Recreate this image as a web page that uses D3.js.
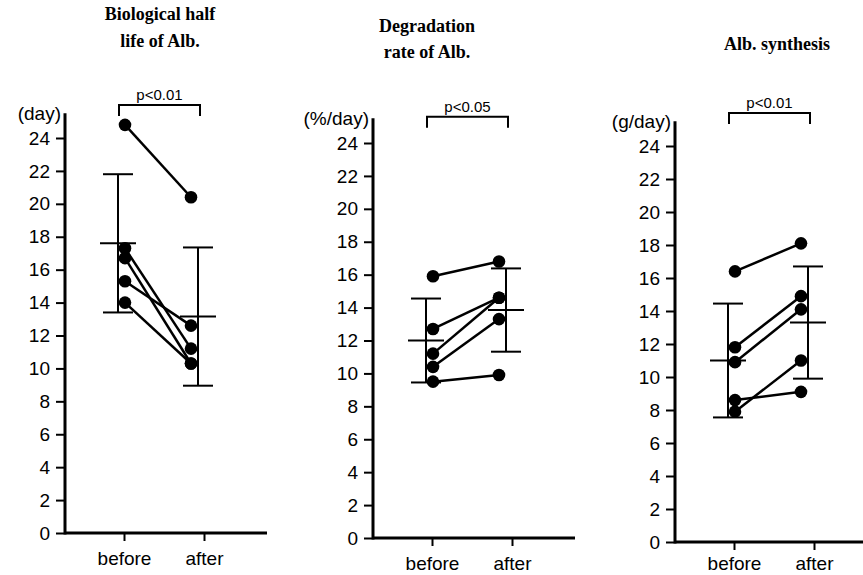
<!DOCTYPE html>
<html>
<head>
<meta charset="utf-8">
<style>
    body {
        margin: 0;
        background: white;
    }
    svg {
        display: block;
        background: white;
    }
    .tick text, .unit {
        font-family: "Liberation Sans", Arial, Helvetica, sans-serif;
        font-size: 19px;
        fill: #000;
    }
    .ptext {
        font-family: "Liberation Sans", Arial, Helvetica, sans-serif;
        font-size: 15px;
    }
    .title {
        font-family: "Liberation Serif", "Times New Roman", serif;
        font-weight: bold;
        font-size: 18px;
    }
</style>
</head>
<body>
<svg id="chart" width="863" height="575"></svg>

<script src="https://d3js.org/d3.v7.min.js"></script>
<script>
    // ---- data ----
    const groups = ["before", "after"]
    const yTicks = [0, 2, 4, 6, 8, 10, 12, 14, 16, 18, 20, 22, 24]

    // biological half life of albumin (day)
    const halfLifeBefore = [24.8, 17.3, 16.7, 15.3, 14.0]
    const halfLifeAfter  = [20.4, 11.2, 10.3, 12.6, 10.3]
    const halfLifeMean   = [17.6, 13.15]
    const halfLifeSD     = [4.2, 4.2]

    // degradation rate of albumin (%/day)
    const degradBefore = [15.9, 12.7, 11.2, 10.4, 9.5]
    const degradAfter  = [16.8, 14.6, 14.6, 13.3, 9.9]
    const degradMean   = [12.0, 13.85]
    const degradSD     = [2.55, 2.53]

    // albumin synthesis (g/day)
    const synthBefore = [16.4, 11.8, 10.9, 7.9, 8.6]
    const synthAfter  = [18.1, 14.9, 14.1, 11.0, 9.1]
    const synthMean   = [11.0, 13.3]
    const synthSD     = [3.45, 3.4]

    const titles = [["Biological half", "life of Alb."], ["Degradation", "rate of Alb."], ["Alb. synthesis"]]
    const units = ["(day)", "(%/day)", "(g/day)"]
    const pLabels = ["p<0.01", "p<0.05", "p<0.01"]

    // ---- layout ----
    const panels = [
        { axisX: 65,  y0: 533, y24: 138, titleX: 160, titleY: [20, 47], bracketV: 26.0, labelPad: 11,
          before: halfLifeBefore, after: halfLifeAfter, mean: halfLifeMean, sd: halfLifeSD },
        { axisX: 373, y0: 538, y24: 143, titleX: 427, titleY: [32, 58], bracketV: 25.6, labelPad: 11,
          before: degradBefore, after: degradAfter, mean: degradMean, sd: degradSD },
        { axisX: 675, y0: 542, y24: 146, titleX: 777, titleY: [50], bracketV: 26.0, labelPad: 7,
          before: synthBefore, after: synthAfter, mean: synthMean, sd: synthSD }
    ]

    const svg = d3.select("#chart")

    panels.forEach(function (p, i) {
        let g = svg.append("g").attr("transform", `translate(${p.axisX},0)`)

        let y = d3.scaleLinear()
            .domain([0, 24])
            .range([p.y0, p.y24])

        let x = d3.scalePoint()
            .domain(groups)
            .range([59, 139])

        // dots sit a bit inside the ticks, error bars a bit left
        let dotX = d => x(d) + (d == "before" ? 1 : -13)
        let errX = d => x(d) - 6

        // y axis
        g.append("g")
            .attr("class", "y axis")
            .call(d3.axisLeft(y).tickValues(yTicks).tickSize(9).tickPadding(6))
            .call(a => a.select(".domain").remove())
            .call(a => a.selectAll(".tick line").attr("stroke-width", 2))

        g.append("line")
            .attr("x1", 0).attr("x2", 0)
            .attr("y1", y(0) + 1.5).attr("y2", y(25.5))
            .attr("stroke", "#000").attr("stroke-width", 3)

        // x axis
        g.append("g")
            .attr("class", "x axis")
            .attr("transform", `translate(0,${y(0)})`)
            .call(d3.axisBottom(x).tickSize(8).tickPadding(p.labelPad))
            .call(a => a.select(".domain").remove())
            .call(a => a.selectAll(".tick line").attr("stroke-width", 2))

        g.append("line")
            .attr("x1", 0).attr("x2", 202)
            .attr("y1", y(0)).attr("y2", y(0))
            .attr("stroke", "#000").attr("stroke-width", 3)

        // unit label
        g.append("text")
            .attr("class", "unit")
            .attr("x", -4)
            .attr("y", y(25.1))
            .attr("text-anchor", "end")
            .text(units[i])

        // paired lines
        let pairs = p.before.map((b, k) => [b, p.after[k]])
        g.append("g")
            .selectAll("line")
            .data(pairs)
            .join("line")
            .attr("x1", dotX("before"))
            .attr("x2", dotX("after"))
            .attr("y1", d => y(d[0]))
            .attr("y2", d => y(d[1]))
            .attr("stroke", "#000")
            .attr("stroke-width", 2.5)

        // dots
        let dots = []
        p.before.forEach(v => dots.push({ group: "before", value: v }))
        p.after.forEach(v => dots.push({ group: "after", value: v }))
        g.append("g")
            .selectAll("circle")
            .data(dots)
            .join("circle")
            .attr("cx", d => dotX(d.group))
            .attr("cy", d => y(d.value))
            .attr("r", 6.3)
            .attr("fill", "#000")

        // mean +- sd
        let stats = groups.map((gr, k) => ({ group: gr, mean: p.mean[k], sd: p.sd[k] }))
        let eb = g.append("g")
            .selectAll("g")
            .data(stats)
            .join("g")
            .attr("stroke", "#000")
            .attr("stroke-width", 2)

        eb.append("line")
            .attr("x1", d => errX(d.group)).attr("x2", d => errX(d.group))
            .attr("y1", d => y(d.mean - d.sd)).attr("y2", d => y(d.mean + d.sd))
        eb.append("line")
            .attr("x1", d => errX(d.group) - 18).attr("x2", d => errX(d.group) + 18)
            .attr("y1", d => y(d.mean)).attr("y2", d => y(d.mean))
        eb.append("line")
            .attr("x1", d => errX(d.group) - 15).attr("x2", d => errX(d.group) + 15)
            .attr("y1", d => y(d.mean + d.sd)).attr("y2", d => y(d.mean + d.sd))
        eb.append("line")
            .attr("x1", d => errX(d.group) - 15).attr("x2", d => errX(d.group) + 15)
            .attr("y1", d => y(d.mean - d.sd)).attr("y2", d => y(d.mean - d.sd))

        // significance bracket
        let bx1 = x("before") - 5, bx2 = x("after") - 4, by = y(p.bracketV)
        g.append("path")
            .attr("d", `M${bx1},${by + 11}V${by}H${bx2}V${by + 11}`)
            .attr("fill", "none")
            .attr("stroke", "#000")
            .attr("stroke-width", 2)

        g.append("text")
            .attr("class", "ptext")
            .attr("x", (bx1 + bx2) / 2)
            .attr("y", by - 5)
            .attr("text-anchor", "middle")
            .text(pLabels[i])

        // panel title
        titles[i].forEach(function (t, k) {
            svg.append("text")
                .attr("class", "title")
                .attr("x", p.titleX)
                .attr("y", p.titleY[k])
                .attr("text-anchor", "middle")
                .text(t)
        })
    })
</script>
</body>
</html>
